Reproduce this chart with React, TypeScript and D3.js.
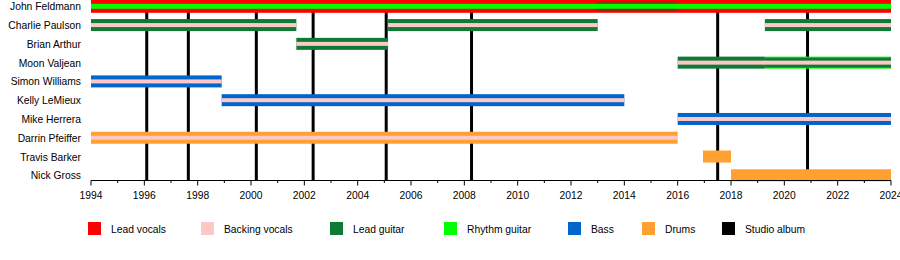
import React from "react";
import * as d3 from "d3";

const members = [
  "John Feldmann",
  "Charlie Paulson",
  "Brian Arthur",
  "Moon Valjean",
  "Simon Williams",
  "Kelly LeMieux",
  "Mike Herrera",
  "Darrin Pfeiffer",
  "Travis Barker",
  "Nick Gross",
];

// [member, start, end]
const leadVocals: [string, number, number][] = [["John Feldmann", 1994, 2024]];
const rhythmGuitar: [string, number, number][] = [
  ["John Feldmann", 1994, 2024],
  ["Moon Valjean", 2019.27, 2024],
];
const leadGuitar: [string, number, number][] = [
  ["John Feldmann", 2012.94, 2016],
  ["Charlie Paulson", 1994, 2001.7],
  ["Charlie Paulson", 2005.14, 2013],
  ["Charlie Paulson", 2019.27, 2024],
  ["Brian Arthur", 2001.7, 2005.14],
  ["Moon Valjean", 2016, 2024],
];
const bass: [string, number, number][] = [
  ["Simon Williams", 1994, 1998.9],
  ["Kelly LeMieux", 1998.9, 2014],
  ["Mike Herrera", 2016, 2024],
];
const drums: [string, number, number][] = [
  ["Darrin Pfeiffer", 1994, 2016],
  ["Travis Barker", 2016.95, 2018],
  ["Nick Gross", 2018, 2024],
];
const backingVocals: [string, number, number][] = [
  ["Charlie Paulson", 1994, 2001.7],
  ["Charlie Paulson", 2005.14, 2013],
  ["Charlie Paulson", 2019.27, 2024],
  ["Brian Arthur", 2001.7, 2005.14],
  ["Moon Valjean", 2016, 2024],
  ["Simon Williams", 1994, 1998.9],
  ["Kelly LeMieux", 1998.9, 2014],
  ["Mike Herrera", 2016, 2024],
  ["Darrin Pfeiffer", 1994, 2016],
];
const studioAlbums = [1996.09, 1997.65, 2000.2, 2002.33, 2005.07, 2008.27, 2017.5, 2020.87];

const legendLabels = ["Lead vocals", "Backing vocals", "Lead guitar", "Rhythm guitar", "Bass", "Drums", "Studio album"];
const legendColors = ["#ff0000", "#ffc8c8", "#0e7a36", "#00ff00", "#0066cc", "#ffa030", "#000000"];
const legendX = [88, 201, 330, 444, 568, 642, 722];

const C = {
  lv: "#ff0000",
  bv: "#ffc8c8",
  lg: "#0e7a36",
  rg: "#00ff00",
  bass: "#0066cc",
  drums: "#ffa030",
};

export default function App() {
  const x = d3.scaleLinear().domain([1994, 2024]).range([91, 891]);
  const y = d3.scalePoint<string>().domain(members).range([6.3, 175.3]);
  const axisY = 180.5;
  const font = "'Liberation Sans', Arial, Helvetica, sans-serif";
  const fs = 10.3;
  const majors = d3.range(1994, 2025, 2);
  const minors = d3.range(1995, 2024, 2);

  const bars = (
    data: [string, number, number][],
    color: string,
    h: number,
    key: string,
    opacity = 1
  ) =>
    data.map(([m, s, e], i) => (
      <rect
        key={key + i}
        x={x(s)}
        width={x(e) - x(s)}
        y={(y(m) as number) - h / 2}
        height={h}
        fill={color}
        opacity={opacity}
      />
    ));

  const lgOthers = leadGuitar.filter((d) => d[0] !== "John Feldmann");

  return (
    <svg
      width={900}
      height={260}
      style={{ position: "absolute", left: 0, top: 0, background: "#fff" }}
      fontFamily={font}
    >
      <rect width={900} height={260} fill="#fff" />
      {studioAlbums.map((a, i) => (
        <line key={"al" + i} x1={x(a)} x2={x(a)} y1={0} y2={axisY} stroke="#000" strokeWidth={3} />
      ))}
      {bars(leadVocals, C.lv, 13, "lv")}
      {bars(drums, C.drums, 12, "dr")}
      {bars(bass, C.bass, 12, "bs")}
      {bars(rhythmGuitar.filter((d) => d[0] !== "John Feldmann"), C.rg, 12, "rg1")}
      {bars(leadGuitar.filter((d) => d[0] === "John Feldmann"), "#6a3a10", 9, "lgj", 0.75)}
      {lgOthers.map((d, i) => {
        const r = rhythmGuitar.find((q) => q[0] === d[0] && q[1] < d[2] && q[2] > d[1]);
        const segs: [number, number, number][] = [];
        if (!r) segs.push([d[1], d[2], 12]);
        else {
          if (d[1] < r[1]) segs.push([d[1], r[1], 12]);
          segs.push([Math.max(d[1], r[1]), Math.min(d[2], r[2]), 10]);
        }
        return (
          <g key={"lgs" + i}>
            {segs.map(([s, e, h], k) => (
              <rect
                key={k}
                x={x(s)}
                width={x(e) - x(s)}
                y={(y(d[0]) as number) - h / 2}
                height={h}
                fill={C.lg}
              />
            ))}
          </g>
        );
      })}
      {bars(rhythmGuitar.filter((d) => d[0] === "John Feldmann"), C.rg, 5, "rgj")}
      {bars(backingVocals, C.bv, 4, "bv")}

      {members.map((m) => (
        <text key={m} x={81} y={(y(m) as number) + 4} textAnchor="end" fontSize={fs} fill="#000">
          {m}
        </text>
      ))}

      <line x1={x(1994)} x2={x(2024)} y1={axisY} y2={axisY} stroke="#000" strokeWidth={1} />
      {majors.map((t) => (
        <g key={"M" + t}>
          <line x1={x(t)} x2={x(t)} y1={axisY} y2={axisY + 5} stroke="#000" />
          <text x={x(t)} y={198.5} textAnchor="middle" fontSize={fs} fill="#000">
            {t}
          </text>
        </g>
      ))}
      {minors.map((t) => (
        <line key={"m" + t} x1={x(t)} x2={x(t)} y1={axisY} y2={axisY + 2.5} stroke="#000" />
      ))}

      {legendLabels.map((l, i) => (
        <g key={l}>
          <rect x={legendX[i]} y={222} width={13} height={13} fill={legendColors[i]} />
          <text x={legendX[i] + 23} y={233} fontSize={fs} fill="#000">
            {l}
          </text>
        </g>
      ))}
    </svg>
  );
}
